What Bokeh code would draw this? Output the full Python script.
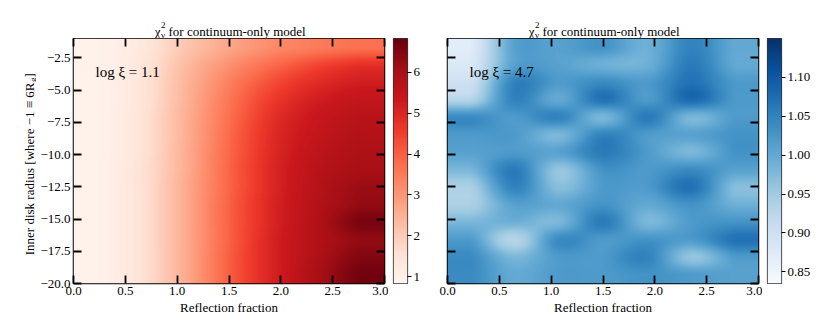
import math
import numpy as np
from bokeh.plotting import figure
from bokeh.layouts import row, column
from bokeh.models import (Range1d, LinearAxis, FixedTicker, CustomJSTickFormatter,
                          LinearColorMapper, Label)
from bokeh.palettes import Reds9, Blues9
from bokeh.embed import file_html
from bokeh.resources import INLINE

# ---------------- data ----------------
refl_range = [0.0, 3.0]
rin_range = [-20.0, -1.0]
x_ticks = [0.0, 0.5, 1.0, 1.5, 2.0, 2.5, 3.0]
y_ticks = [-20.0, -17.5, -15.0, -12.5, -10.0, -7.5, -5.0, -2.5]
cbar_low_ticks = [1, 2, 3, 4, 5, 6]
cbar_high_ticks = [0.85, 0.90, 0.95, 1.00, 1.05, 1.10]
cbar_low_range = [0.83, 6.83]
cbar_high_range = [0.835, 1.15]
title_main = "for continuum-only model"
x_label = "Reflection fraction"
y_label_main = "Inner disk radius [where \u22121 \u2261 6R"
y_label_sub = "g"
label_low = "log \u03be = 1.1"
label_high = "log \u03be = 4.7"

# reduced chi^2 grids: rows from top (R_in ~ -1.7) to bottom (R_in ~ -19.3),
# 7 columns across reflection fraction (cell centres 0.21 ... 2.79)
chi2_low_xi = [
    [0.95, 1.30, 2.10, 2.70, 3.20, 3.50, 3.70],
    [0.95, 1.35, 2.30, 3.10, 3.80, 4.40, 4.80],
    [0.95, 1.40, 2.40, 3.40, 4.30, 4.90, 5.20],
    [0.95, 1.40, 2.45, 3.60, 4.60, 5.20, 5.50],
    [0.95, 1.45, 2.50, 3.70, 4.80, 5.40, 5.70],
    [0.95, 1.45, 2.50, 3.80, 4.90, 5.50, 5.80],
    [0.95, 1.45, 2.55, 3.85, 4.95, 5.60, 5.90],
    [0.95, 1.50, 2.55, 3.90, 5.00, 5.70, 6.00],
    [0.95, 1.50, 2.60, 3.90, 5.00, 5.75, 6.20],
    [0.95, 1.50, 2.60, 3.95, 5.05, 5.80, 6.30],
    [0.95, 1.50, 2.60, 3.95, 5.05, 5.85, 6.60],
    [0.95, 1.50, 2.60, 3.95, 5.10, 5.85, 6.30],
    [0.95, 1.50, 2.60, 4.00, 5.10, 5.90, 6.50],
    [0.95, 1.50, 2.60, 4.00, 5.10, 6.00, 6.70],
]
chi2_high_xi = [
    [0.87, 1.01, 1.01, 1.03, 0.99, 1.05, 1.00],
    [0.88, 1.01, 1.01, 0.99, 0.99, 1.06, 1.00],
    [0.90, 1.05, 1.02, 1.04, 1.02, 1.07, 1.02],
    [0.93, 1.05, 1.00, 1.07, 1.02, 1.08, 1.02],
    [1.04, 1.02, 1.05, 0.98, 1.06, 0.98, 1.02],
    [1.02, 1.02, 0.98, 1.05, 1.02, 1.01, 1.03],
    [1.01, 1.02, 1.01, 1.06, 1.02, 0.98, 1.03],
    [0.98, 1.06, 0.96, 1.03, 1.02, 1.04, 1.01],
    [0.94, 1.05, 0.97, 1.02, 1.02, 1.07, 0.97],
    [0.94, 1.01, 1.00, 1.03, 1.00, 1.03, 0.99],
    [0.98, 0.99, 0.98, 1.06, 0.98, 1.02, 1.03],
    [1.02, 0.93, 1.04, 1.02, 1.03, 1.02, 1.07],
    [1.04, 0.98, 1.02, 1.02, 1.05, 0.96, 1.02],
    [1.04, 1.00, 1.02, 1.02, 1.03, 1.02, 1.01],
]

FONT = "Liberation Serif"
FW, FH = 311, 245
TOP = 38          # space above the frames (title area)
BOTTOM = 40
YLAB_W = 36       # width of the y-label strip
LEFT1 = 37        # left border of the first heat map (tick labels)
LEFT2 = 10
RIGHT = 4


def make_palette(base):
    cols = list(base)
    def lum(h):
        return int(h[1:3], 16) + int(h[3:5], 16) + int(h[5:7], 16)
    if lum(cols[0]) < lum(cols[-1]):
        cols = cols[::-1]
    rgb = np.array([[int(c[i:i + 2], 16) for i in (1, 3, 5)] for c in cols], float)
    t = np.linspace(0, 1, 256)
    src = np.linspace(0, 1, len(cols))
    out = []
    for k in range(256):
        r, g, b = (np.interp(t[k], src, rgb[:, j]) for j in range(3))
        out.append("#%02x%02x%02x" % (int(round(r)), int(round(g)), int(round(b))))
    return out


def cubic_resample(a, n_out, axis):
    n = a.shape[axis]
    pos = (np.arange(n_out) + 0.5) / n_out * n - 0.5
    pos = np.clip(pos, 0, n - 1)
    i = np.floor(pos).astype(int)
    t = pos - i
    def take(k):
        return np.take(a, np.clip(i + k, 0, n - 1), axis=axis)
    p0, p1, p2, p3 = take(-1), take(0), take(1), take(2)
    shape = [1] * a.ndim
    shape[axis] = n_out
    t = t.reshape(shape)
    return 0.5 * (2 * p1 + (-p0 + p2) * t + (2 * p0 - 5 * p1 + 4 * p2 - p3) * t ** 2
                  + (-p0 + 3 * p1 - 3 * p2 + p3) * t ** 3)


def display_image(grid):
    a = np.array(grid, float)[::-1]  # bottom row first
    a = cubic_resample(a, FH, 0)
    a = cubic_resample(a, FW + 1, 1)
    return a


def style_axis(ax, ticks, code, size="13px", tin=8, tout=0, width=1.8, standoff=3):
    ax.ticker = FixedTicker(ticks=ticks)
    ax.formatter = CustomJSTickFormatter(code=code)
    ax.major_tick_in = tin
    ax.major_tick_out = tout
    ax.minor_tick_in = 0
    ax.minor_tick_out = 0
    ax.major_tick_line_width = width
    ax.major_tick_line_color = "black"
    ax.minor_tick_line_color = None
    ax.axis_line_color = None
    ax.major_label_text_font = FONT
    ax.major_label_text_font_size = size
    ax.major_label_text_color = "black"
    ax.major_label_standoff = standoff


EMPTY = "return '';"
YFMT = "return tick.toFixed(1).replace('-', '\u2212');"
XFMT = "return tick.toFixed(1);"


def blank_fig(**kw):
    f = figure(output_backend="svg", toolbar_location=None, tools="",
               x_axis_location=None, y_axis_location=None, **kw)
    f.grid.visible = False
    f.outline_line_color = None
    return f


def lab(x, y, xo, yo, text, size, align="left", angle=0.0):
    return Label(x=x, y=y, x_offset=xo, y_offset=yo, text=text, text_font=FONT,
                 text_font_size=size, text_align=align, text_baseline="alphabetic",
                 text_color="black", angle=angle)


def title_fig(left):
    t = blank_fig(frame_width=FW, frame_height=TOP, x_range=Range1d(*refl_range),
                  y_range=Range1d(0, 1), min_border_left=left, min_border_right=RIGHT,
                  min_border_top=0, min_border_bottom=0)
    # chi^2_nu for continuum-only model  (baseline 7 px above the frame top)
    t.add_layout(lab(0, 0, 87, 7, "\u03c7", "13px", "right"))
    t.add_layout(lab(0, 0, 87.5, 14, "2", "9px"))
    t.add_layout(lab(0, 0, 87.5, 4, "\u03bd", "9px"))
    t.add_layout(lab(0, 0, 95, 7, title_main, "13px"))
    return t


def ylabel_fig():
    f = blank_fig(frame_width=YLAB_W, frame_height=FH, x_range=Range1d(0, 1),
                  y_range=Range1d(*rin_range), min_border_left=0, min_border_right=0,
                  min_border_top=TOP, min_border_bottom=0)
    ymid = (rin_range[0] + rin_range[1]) / 2
    a = math.pi / 2
    f.add_layout(lab(0, ymid, 29, 78.5, y_label_main, "13px", "right", a))
    f.add_layout(lab(0, ymid, 32, 79, y_label_sub, "9px", "left", a))
    f.add_layout(lab(0, ymid, 29, 83.5, "]", "13px", "left", a))
    return f


def heat_fig(grid, pal, rng, with_ylabels, tag):
    left = LEFT1 if with_ylabels else LEFT2
    p = figure(frame_width=FW, frame_height=FH,
               x_range=Range1d(*refl_range), y_range=Range1d(*rin_range),
               output_backend="svg", toolbar_location=None, tools="",
               min_border_left=left, min_border_right=RIGHT,
               min_border_top=0, min_border_bottom=BOTTOM)
    p.grid.visible = False
    p.outline_line_color = "black"
    p.outline_line_width = 1.5
    mapper = LinearColorMapper(palette=pal, low=rng[0], high=rng[1])
    p.image(image=[display_image(grid)], x=refl_range[0], y=rin_range[0],
            dw=refl_range[1] - refl_range[0], dh=rin_range[1] - rin_range[0],
            color_mapper=mapper)
    style_axis(p.xaxis[0], x_ticks, XFMT)
    p.xaxis[0].axis_label = x_label
    p.xaxis[0].axis_label_text_font = FONT
    p.xaxis[0].axis_label_text_font_size = "13px"
    p.xaxis[0].axis_label_text_font_style = "normal"
    p.xaxis[0].axis_label_text_color = "black"
    p.xaxis[0].axis_label_standoff = 2
    if with_ylabels:
        style_axis(p.yaxis[0], y_ticks, YFMT)
    else:
        style_axis(p.yaxis[0], y_ticks, EMPTY, size="0px", standoff=0)
    top = LinearAxis()
    style_axis(top, x_ticks, EMPTY, size="0px", standoff=0)
    p.add_layout(top, "above")
    right = LinearAxis()
    style_axis(right, y_ticks, EMPTY, size="0px", standoff=0)
    p.add_layout(right, "right")
    p.add_layout(lab(0, rin_range[1], 22, -33, tag, "15px"))
    return p


def cbar_fig(pal, rng, ticks, code, right_border):
    c = figure(frame_width=14, frame_height=FH, x_range=Range1d(0, 1),
               y_range=Range1d(rng[0], rng[1]), output_backend="svg",
               toolbar_location=None, tools="", x_axis_location=None,
               y_axis_location="right", min_border_left=5,
               min_border_right=right_border, min_border_top=TOP, min_border_bottom=BOTTOM)
    c.grid.visible = False
    c.outline_line_color = "#333333"
    c.outline_line_width = 1.2
    vals = np.linspace(rng[0], rng[1], 256).reshape(256, 1)
    c.image(image=[vals], x=0, y=rng[0], dw=1, dh=rng[1] - rng[0],
            color_mapper=LinearColorMapper(palette=pal, low=rng[0], high=rng[1]))
    style_axis(c.yaxis[0], ticks, code, tin=0, tout=4, width=1, standoff=2)
    return c


reds = make_palette(Reds9)
blues = make_palette(Blues9)

ylab = ylabel_fig()
t1 = title_fig(LEFT1)
p1 = heat_fig(chi2_low_xi, reds, cbar_low_range, True, label_low)
c1 = cbar_fig(reds, cbar_low_range, cbar_low_ticks, "return tick.toFixed(0);", 30)
t2 = title_fig(LEFT2)
p2 = heat_fig(chi2_high_xi, blues, cbar_high_range, False, label_high)
c2 = cbar_fig(blues, cbar_high_range, cbar_high_ticks, "return tick.toFixed(2);", 35)

layout = row(ylab, column(t1, p1), c1, column(t2, p2), c2)
with open("out.html", "w", encoding="utf-8") as f:
    f.write(file_html(layout, INLINE))
